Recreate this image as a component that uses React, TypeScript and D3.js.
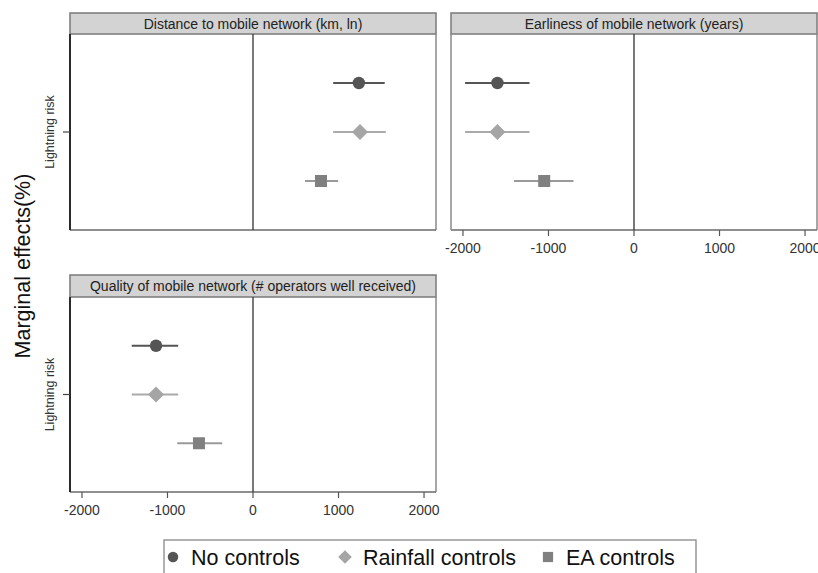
import React from "react";
import * as d3 from "d3";

const panelTitles = [
  "Distance to mobile network (km, ln)",
  "Earliness of mobile network (years)",
  "Quality of mobile network (# operators well received)",
];
const seriesNames = ["No controls", "Rainfall controls", "EA controls"];
const rowLabel = "Lightning risk";
const yTitle = "Marginal effects(%)";
const xTicks = [-2000, -1000, 0, 1000, 2000];

// estimates per panel (distance, earliness, quality)
const noControlsEst = [1238, -1597, -1134];
const noControlsLo = [938, -1975, -1418];
const noControlsHi = [1540, -1222, -875];
const rainfallEst = [1251, -1597, -1134];
const rainfallLo = [938, -1975, -1418];
const rainfallHi = [1552, -1222, -875];
const eaEst = [795, -1050, -632];
const eaLo = [608, -1403, -886];
const eaHi = [996, -708, -360];

const estimates = [noControlsEst, rainfallEst, eaEst];
const lows = [noControlsLo, rainfallLo, eaLo];
const highs = [noControlsHi, rainfallHi, eaHi];

const markerFill = ["#555555", "#a5a5a5", "#808080"];
const lineColor = ["#555555", "#aaaaaa", "#9a9a9a"];
const FONT = "'Liberation Sans', Arial, sans-serif";

type PanelDef = {
  x0: number; x1: number; top: number; headerH: number; bottom: number;
  showX: boolean; showY: boolean; idx: number;
};

const panels: PanelDef[] = [
  { x0: 70, x1: 436, top: 13, headerH: 21, bottom: 230, showX: false, showY: true, idx: 0 },
  { x0: 451, x1: 817, top: 13, headerH: 21, bottom: 230, showX: true, showY: false, idx: 1 },
  { x0: 70, x1: 436, top: 275, headerH: 22, bottom: 492, showX: true, showY: true, idx: 2 },
];

function Marker({ kind, cx, cy, fill, scale = 1 }: { kind: number; cx: number; cy: number; fill: string; scale?: number }) {
  if (kind === 0) return <circle cx={cx} cy={cy} r={6.2 * scale} fill={fill} />;
  if (kind === 1) {
    const h = 8 * scale;
    const p = d3.path();
    p.moveTo(cx, cy - h);
    p.lineTo(cx + h, cy);
    p.lineTo(cx, cy + h);
    p.lineTo(cx - h, cy);
    p.closePath();
    return <path d={p.toString()} fill={fill} />;
  }
  const s = 6 * scale;
  return <rect x={cx - s} y={cy - s} width={2 * s} height={2 * s} fill={fill} />;
}

function Panel({ p }: { p: PanelDef }) {
  const plotTop = p.top + p.headerH;
  const x = d3.scaleLinear().domain([-2140, 2140]).range([p.x0, p.x1]);
  const y = d3.scalePoint<string>().domain(seriesNames).range([plotTop, p.bottom]).padding(1);
  const rowY = (plotTop + p.bottom) / 2;
  return (
    <g>
      <rect x={p.x0} y={p.top} width={p.x1 - p.x0} height={p.headerH} fill="#d3d3d3" stroke="#7a7a7a" strokeWidth={1.5} />
      <text x={(p.x0 + p.x1) / 2} y={p.top + p.headerH / 2 + 5} textAnchor="middle" fontSize={14} fill="#222" fontFamily={FONT}>
        {panelTitles[p.idx]}
      </text>
      <line x1={p.x1} x2={p.x1} y1={plotTop} y2={p.bottom} stroke="#8a8a8a" strokeWidth={1.5} />
      <line x1={p.x0} x2={p.x1} y1={p.bottom} y2={p.bottom} stroke="#6a6a6a" strokeWidth={1.6} />
      <line x1={p.x0} x2={p.x0} y1={plotTop} y2={p.bottom} stroke={p.showY ? "#2a2a2a" : "#8a8a8a"} strokeWidth={p.showY ? 2 : 1.5} />
      <line x1={x(0)} x2={x(0)} y1={plotTop} y2={p.bottom} stroke="#404040" strokeWidth={1.4} />
      {p.showY && (
        <g>
          <line x1={p.x0 - 7} x2={p.x0} y1={rowY} y2={rowY} stroke="#444" strokeWidth={1.2} />
          <text transform={`translate(${p.x0 - 16},${rowY}) rotate(-90)`} textAnchor="middle" fontSize={12.5} fill="#333" fontFamily={FONT}>
            {rowLabel}
          </text>
        </g>
      )}
      {p.showX && (
        <g>
          {xTicks.map((t) => (
            <g key={t}>
              <line x1={x(t)} x2={x(t)} y1={p.bottom} y2={p.bottom + 6} stroke="#555" strokeWidth={1.2} />
              <text x={x(t)} y={p.bottom + 23} textAnchor="middle" fontSize={14} fill="#333" fontFamily={FONT}>
                {String(t)}
              </text>
            </g>
          ))}
        </g>
      )}
      {seriesNames.map((s, si) => {
        const cy = y(s) as number;
        return (
          <g key={s}>
            <line x1={x(lows[si][p.idx])} x2={x(highs[si][p.idx])} y1={cy} y2={cy} stroke={lineColor[si]} strokeWidth={2.2} />
            <Marker kind={si} cx={x(estimates[si][p.idx])} cy={cy} fill={markerFill[si]} />
          </g>
        );
      })}
    </g>
  );
}

export default function App() {
  const legendX = [173, 345, 548];
  return (
    <svg width={818} height={573} style={{ position: "absolute", left: 0, top: 0, background: "#fff" }} fontFamily={FONT}>
      <rect x={0} y={0} width={818} height={573} fill="#fff" />
      {panels.map((p) => (
        <Panel key={p.idx} p={p} />
      ))}
      <text transform="translate(30,266) rotate(-90)" textAnchor="middle" fontSize={21.5} fill="#111" fontFamily={FONT}>
        {yTitle}
      </text>
      <rect x={164} y={540} width={532} height={50} fill="#fff" stroke="#888" strokeWidth={1.3} />
      {seriesNames.map((s, i) => (
        <g key={s}>
          <Marker kind={i} cx={legendX[i]} cy={557} fill={markerFill[i]} scale={0.85} />
          <text x={legendX[i] + 18} y={564.5} fontSize={21.5} fill="#111" fontFamily={FONT}>
            {s}
          </text>
        </g>
      ))}
    </svg>
  );
}
